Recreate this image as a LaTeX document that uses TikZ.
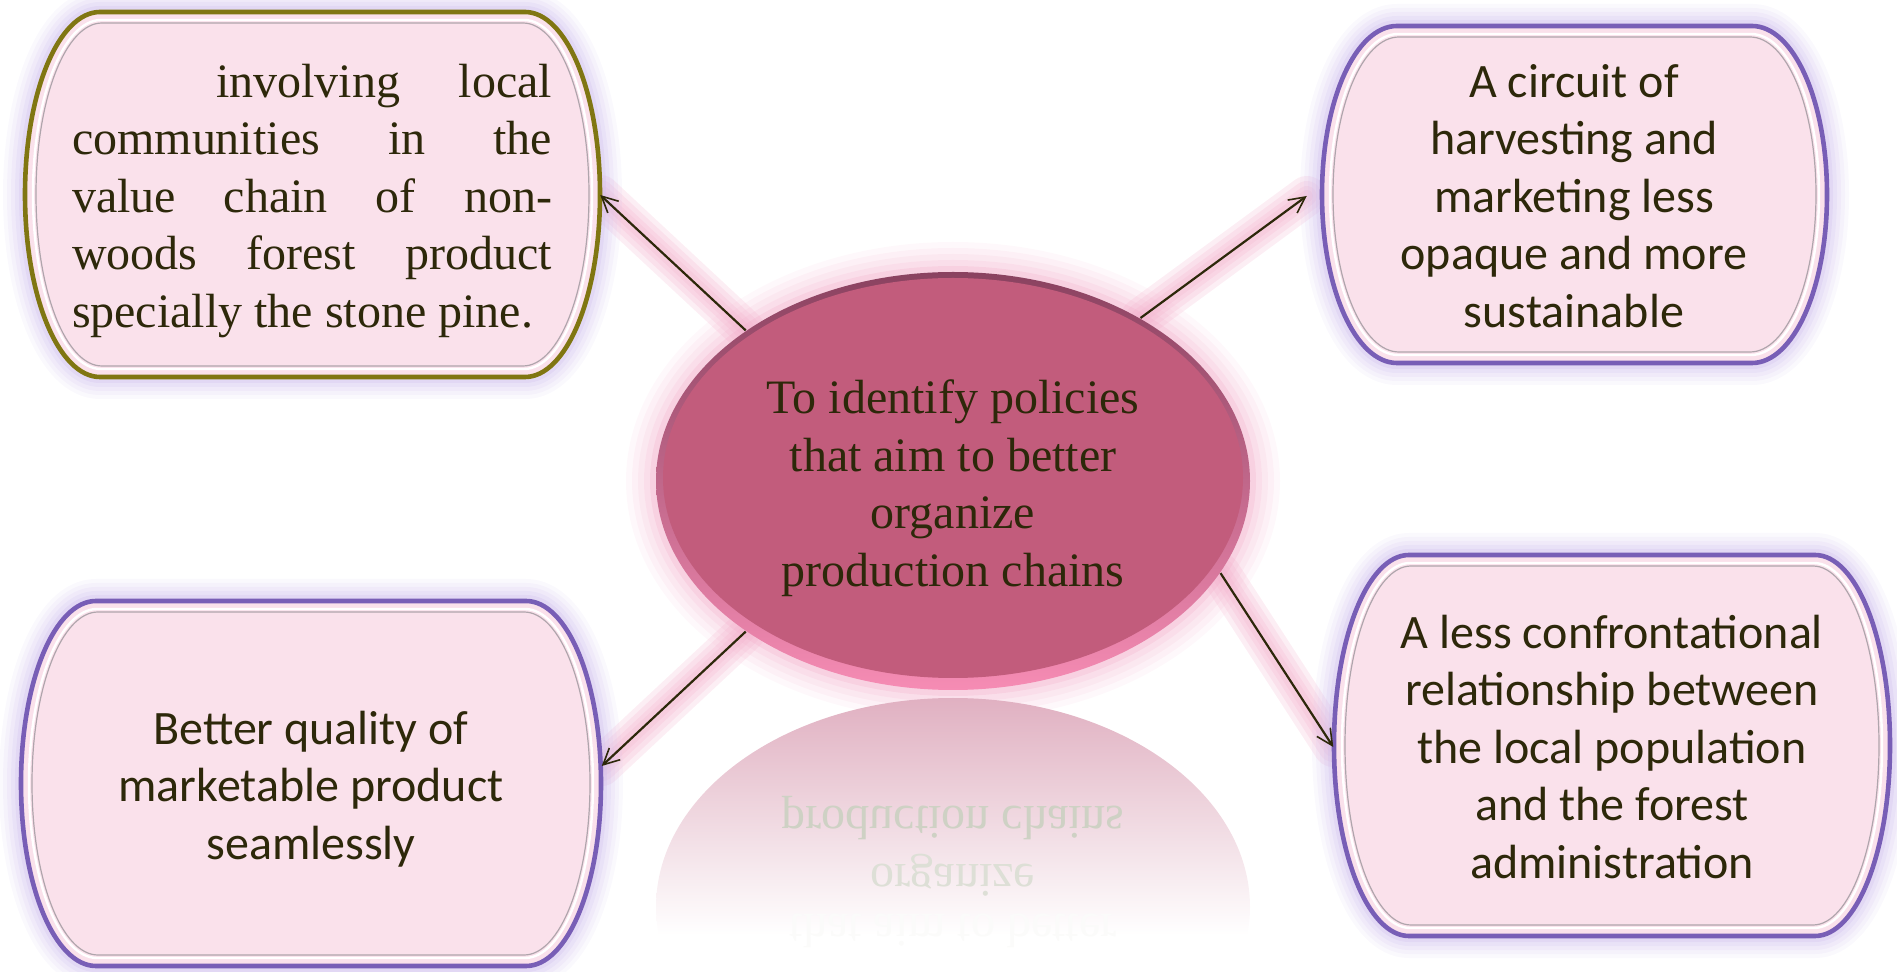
\documentclass[tikz,border=0pt]{standalone}
\usepackage{fontspec}
\setmainfont{Liberation Serif}
\newfontfamily\calibri{Carlito}
\usetikzlibrary{shapes.geometric,arrows.meta,backgrounds}

\definecolor{boxfill}{RGB}{250,225,235}
\definecolor{boxline}{RGB}{120,94,182}
\definecolor{oliveline}{RGB}{128,118,18}
\definecolor{boxglow}{RGB}{208,192,238}
\definecolor{boxinner}{RGB}{175,165,172}
\definecolor{goalfill}{RGB}{194,92,124}
\definecolor{goaltop}{RGB}{138,66,96}
\definecolor{goalbot}{RGB}{246,140,180}
\definecolor{goalglow}{RGB}{242,170,200}
\definecolor{inktext}{RGB}{45,40,10}
\definecolor{reflpink}{RGB}{224,176,193}
\definecolor{refltext}{RGB}{206,209,196}

\newcommand{\serifbox}{\fontsize{24}{28.75}\selectfont}
\newcommand{\sansbox}{\calibri\fontsize{24}{28.75}\selectfont}

% barrel outline: left, top, right, bottom, corner run
\newcommand{\barrel}[6][]{%
  \path[#1] ({(#2)+(#6)},{#3}) -- ({(#4)-(#6)},{#3})
    .. controls ({(#4)-0.45*(#6)},{#3}) and ({#4},{(#3)+0.22*((#5)-(#3))}) .. ({#4},{((#3)+(#5))/2})
    .. controls ({#4},{(#5)-0.22*((#5)-(#3))}) and ({(#4)-0.45*(#6)},{#5}) .. ({(#4)-(#6)},{#5})
    -- ({(#2)+(#6)},{#5})
    .. controls ({(#2)+0.45*(#6)},{#5}) and ({#2},{(#5)-0.22*((#5)-(#3))}) .. ({#2},{((#3)+(#5))/2})
    .. controls ({#2},{(#3)+0.22*((#5)-(#3))}) and ({(#2)+0.45*(#6)},{#3}) .. ({(#2)+(#6)},{#3}) -- cycle;}

% whole box with glow, rim and inner line
\newcommand{\glowbox}[5]{%
  \foreach \g/\o in {22/0.1,18/0.12,14/0.15,10/0.2,6/0.3}
    \barrel[draw=boxglow, line width=\g pt, draw opacity=\o]{#1}{#2}{#3}{#4}{75};
  \barrel[fill=boxfill, draw=#5, line width=2.3pt]{#1}{#2}{#3}{#4}{75}
  \barrel[draw=white, line width=1.2pt]{(#1)+8}{(#2)+8}{(#3)-8}{(#4)-8}{68}
  \barrel[draw=boxinner, line width=0.6pt]{(#1)+11}{(#2)+11}{(#3)-11}{(#4)-11}{66}}

\tikzset{every picture/.style={line width=0.75pt}}
\tikzset{
  box/.style={inner sep=0pt, text=inktext},
  link/.style={draw=inktext, line width=1.1pt, -{Straight Barb[length=8pt,width=8pt,line width=0.8pt]}},
  linkglow/.style={draw=goalglow, line width=#1, draw opacity=0.2, line cap=round},
}

\begin{document}
\begin{tikzpicture}[x=0.5pt,y=0.5pt,yscale=-1,xscale=1]
\useasboundingbox (0,0) rectangle (1897,972);

% centre ellipse
\node[ellipse, inner sep=0pt, minimum width=297pt, minimum height=209pt] (goal) at (953,481) {};
\node[box, font=\serifbox, align=center] (goaltext) at (953,488)
  {To identify policies\\that aim to better\\organize\\production chains};

% the four boxes
\node[box, minimum width=287.5pt, minimum height=182.5pt, text width=240pt, align=justify,
  font=\serifbox] (commun) at (312,201)
  {\hspace*{72pt}involving local\linebreak communities in the\linebreak value chain of non-\linebreak woods forest product\linebreak specially the stone pine.};
\node[box, minimum width=252.5pt, minimum height=168.5pt, align=center, font=\sansbox] (circuit) at (1574,196)
  {A circuit of\\harvesting and\\marketing less\\opaque and more\\sustainable};
\node[box, minimum width=290pt, minimum height=182.5pt, align=center, font=\sansbox] (quality) at (311,789)
  {Better quality of\\marketable product\\seamlessly};
\node[box, minimum width=278pt, minimum height=190.5pt, align=center, font=\sansbox] (relation) at (1612,747)
  {A less confrontational\\relationship between\\the local population\\and the forest\\administration};

\begin{pgfonlayer}{background}
%glow under the arrows
\foreach \w in {20pt,15pt,10pt,6pt}{
  \draw[linkglow=\w] (goal.144) -- ([yshift=-3pt]commun.east);
  \draw[linkglow=\w] (goal.41) -- ([xshift=-7pt]circuit.west);
  \draw[linkglow=\w] (goal.-144) -- ([yshift=-11.5pt]quality.east);
  \draw[linkglow=\w] (goal.-19) -- (relation.west);
}
%boxes
\glowbox{25}{12}{600}{377}{oliveline}
\glowbox{1322}{26}{1827}{363}{boxline}
\glowbox{21}{601}{601}{966}{boxline}
\glowbox{1334}{555}{1890}{936}{boxline}
%ellipse with rim
\foreach \g/\o in {30/0.08,24/0.1,18/0.12,12/0.15,6/0.25}
  \draw[goalglow, line width=\g pt, opacity=\o] (953,481) ellipse [x radius=297, y radius=209];
\shade[top color=goaltop, bottom color=goalbot] (953,481) ellipse [x radius=297, y radius=209];
\fill[goalfill] (953,478) ellipse [x radius=290, y radius=200];
%reflection
\begin{scope}
  \clip (953,907) ellipse [x radius=297, y radius=209];
  \shade[top color=reflpink, bottom color=white] (650,697) rectangle (1256,935);
  \node[yscale=-1, text=refltext, font=\serifbox] (mirror1) at (953,818) {production chains};
  \node[yscale=-1, text=refltext!70, font=\serifbox] (mirror2) at (953,875) {organize};
  \node[yscale=-1, text=refltext!8, font=\serifbox] (mirror3) at (953,931) {that aim to better};
\end{scope}
\end{pgfonlayer}

%arrows
\draw[link] (goal.144) -- ([yshift=-3pt]commun.east);
\draw[link] (goal.41) -- ([xshift=-7pt]circuit.west);
\draw[link] (goal.-144) -- ([yshift=-11.5pt]quality.east);
\draw[link] (goal.-19) -- (relation.west);

\end{tikzpicture}
\end{document}
